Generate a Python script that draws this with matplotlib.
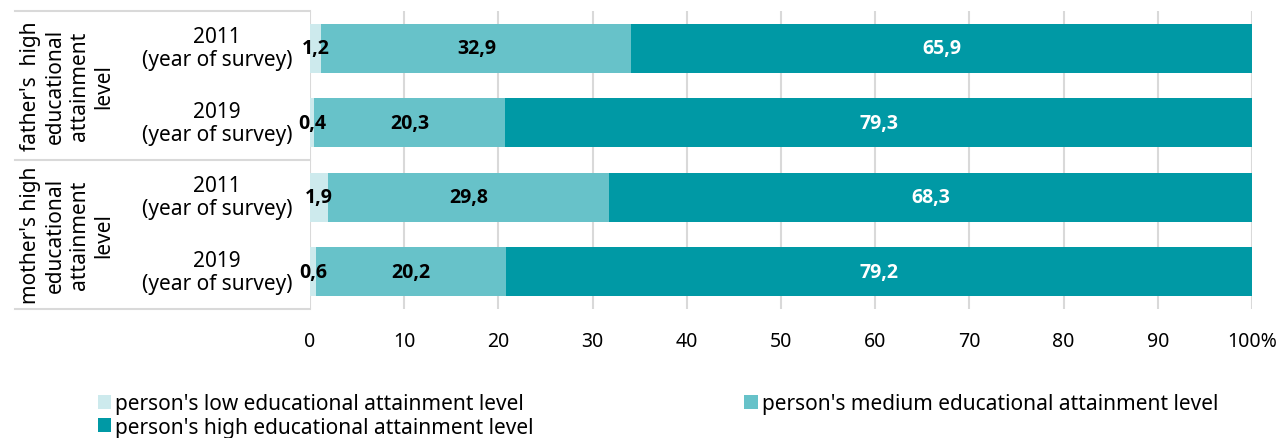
import matplotlib.pyplot as plt
import numpy as np

plt.rcParams['font.family'] = ['Noto Sans', 'DejaVu Sans']

years = ["2011\n(year of survey)", "2019\n(year of survey)",
         "2011\n(year of survey)", "2019\n(year of survey)"]
groups = ["father's  high\neducational\nattainment\nlevel",
          "mother's high\neducational\nattainment\nlevel"]
low = [1.2, 0.4, 1.9, 0.6]
medium = [32.9, 20.3, 29.8, 20.2]
high = [65.9, 79.3, 68.3, 79.2]
series_names = ["person's low educational attainment level",
                "person's medium educational attainment level",
                "person's high educational attainment level"]
colors = ["#cdeaed", "#67c2c9", "#0099a5"]

fig = plt.figure(figsize=(12.86, 4.39), dpi=100)
ax = fig.add_axes([0.2411, 0.2938, 0.9736 - 0.2411, 0.9727 - 0.2938])

y = np.arange(len(years))
left = np.zeros(len(years))
bars = []
for vals, col in zip([low, medium, high], colors):
    b = ax.barh(y, vals, left=left, height=0.66, color=col, zorder=3)
    bars.append(b)
    for yi, v, l in zip(y, vals, left):
        tc = "white" if col == colors[2] else "black"
        ax.text(l + v / 2, yi, f"{v:.1f}".replace(".", ","), ha="center",
                va="center", fontsize=14, fontweight="bold", color=tc,
                family=["Open Sans", "DejaVu Sans"], zorder=4)
    left = left + np.array(vals)

ax.set_ylim(3.5, -0.5)
ax.set_xlim(0, 100)
ax.set_xticks(np.arange(0, 101, 10))
ax.set_xticklabels([str(t) for t in range(0, 100, 10)] + ["100%"], fontsize=14)
ax.set_yticks([])
ax.tick_params(axis="x", length=0, pad=16)
ax.grid(axis="x", color="#d9d9d9", linewidth=1.5, zorder=0)
for s in ax.spines.values():
    s.set_visible(False)

# category labels and table lines on the left
for yi, lab in zip(y, years):
    ax.text(-9.9, yi, lab, ha="center", va="center", fontsize=15,
            linespacing=1.12, clip_on=False)
for gi, g in enumerate(groups):
    ax.text(-25.8, 0.5 + 2 * gi, g, ha="center", va="center", rotation=90,
            fontsize=15, linespacing=1.2, clip_on=False)
for yl in [-0.5, 1.5, 3.5]:
    ax.plot([-31.3, 0], [yl, yl], color="#d9d9d9", linewidth=1.5,
            clip_on=False, zorder=1)

handles = [bars[0], bars[2], bars[1]]
labels = [series_names[0], series_names[2], series_names[1]]
fig.legend(handles, labels, loc="lower left", bbox_to_anchor=(0.0695, -0.018),
           ncol=2, frameon=False, fontsize=15, handlelength=0.65,
           handleheight=0.65, handletextpad=0.2, columnspacing=10.1,
           labelspacing=0.1, borderaxespad=0)

fig.savefig("out.png", dpi=100)
